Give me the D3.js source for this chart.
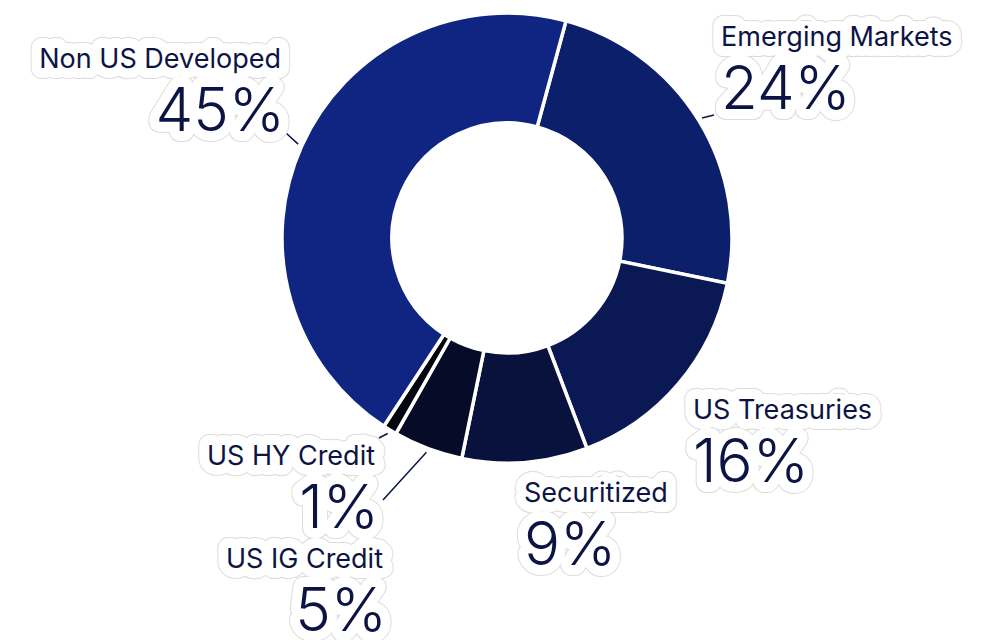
<!DOCTYPE html>
<html>
<head>
<meta charset="utf-8">
<script src="https://cdn.jsdelivr.net/npm/d3@7"></script>
<style>
  body { margin: 0; background: #fff; }
  svg text { font-family: Inter, "Noto Sans", sans-serif; }
</style>
</head>
<body>
<div id="chart"></div>
<script>
// allocation data
var categories = ["Emerging Markets", "US Treasuries", "Securitized", "US IG Credit", "US HY Credit", "Non US Developed"];
var values = [24, 16, 9, 5, 1, 45];
var colors = ["#0c1f6b", "#0a1853", "#08123d", "#060b27", "#03050f", "#0f2581"];

// where each label sits (x, baseline of name, anchor)
var labelPos = [
  {x: 721, y: 46, anchor: "start"},
  {x: 693, y: 419, anchor: "start"},
  {x: 524, y: 502, anchor: "start"},
  {x: 383, y: 568, anchor: "end"},
  {x: 375, y: 465, anchor: "end"},
  {x: 281, y: 68, anchor: "end"}
];
// leader line end points (null = none)
var leaderEnd = [[714, 115], null, null, [383, 500], [379, 438], [286, 133]];

var width = 981, height = 640;
var cx = 507, cy = 238, rOuter = 225, rInner = 115;

var svg = d3.select("#chart").append("svg")
  .attr("width", width)
  .attr("height", height);

var data = categories.map(function(c, i) { return {name: c, value: values[i], i: i}; });

var pie = d3.pie()
  .sort(null)
  .value(function(d) { return d.value; })
  .startAngle(15.2 * Math.PI / 180)
  .endAngle((360 + 15.2) * Math.PI / 180);

var arc = d3.arc().innerRadius(rInner).outerRadius(rOuter);

var arcs = pie(data);

var g = svg.append("g").attr("transform", "translate(" + cx + "," + cy + ")");

g.selectAll("path")
  .data(arcs)
  .enter().append("path")
  .attr("d", arc)
  .attr("fill", function(d) { return colors[d.data.i]; })
  .attr("stroke", "#fff")
  .attr("stroke-width", 3.5);

// leader lines from the outer edge at mid angle
arcs.forEach(function(d) {
  var end = leaderEnd[d.data.i];
  if (!end) return;
  var a = (d.startAngle + d.endAngle) / 2;
  var r = rOuter + 4;
  svg.append("line")
    .attr("x1", cx + r * Math.sin(a))
    .attr("y1", cy - r * Math.cos(a))
    .attr("x2", end[0])
    .attr("y2", end[1])
    .attr("stroke", "#0c1445")
    .attr("stroke-width", 1.5);
});

// labels with white halo: halos first for all, then texts, so halos merge
var labels = svg.append("g");
var items = [];
data.forEach(function(d) {
  var p = labelPos[d.i];
  items.push([p.x, p.y, p.anchor, d.name, 27, 400]);
  items.push([p.x + (p.anchor == "end" ? 4 : 0), p.y + 63, p.anchor, d.value + "%", 60, 300]);
});
[["#dcdcdc", 22], ["#fff", 20], [null, 0]].forEach(function(s) {
  items.forEach(function(it) {
    var t = labels.append("text")
      .attr("x", it[0]).attr("y", it[1])
      .attr("text-anchor", it[2])
      .style("font-size", it[4] + "px")
      .style("font-weight", it[5])
      .text(it[3]);
    if (s[0]) {
      t.attr("fill", s[0]).attr("stroke", s[0]).attr("stroke-width", s[1])
        .attr("stroke-linejoin", "round");
    } else {
      t.attr("fill", "#0c1445");
    }
  });
});
</script>
</body>
</html>
